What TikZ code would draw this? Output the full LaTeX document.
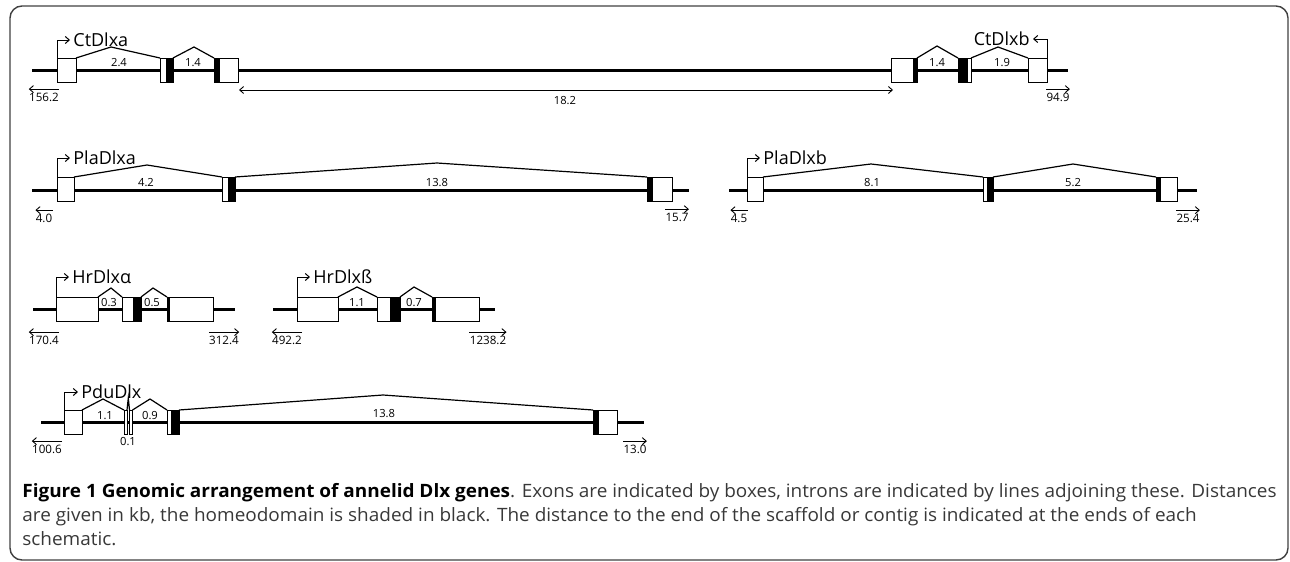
\documentclass[tikz,border=0pt]{standalone}
\usepackage{fontspec}
\setmainfont{Open Sans}
\newfontfamily\capfont[FakeStretch=1.03]{Open Sans}
\usetikzlibrary{fit,arrows.meta}

\begin{document}
\begin{tikzpicture}[x=0.5pt, y=-0.5pt,
    gene/.style={line width=1.5pt},
    exon/.style={draw, fill=white, line width=0.5pt,
        inner sep=0pt, outer sep=0pt},
    hd/.style={exon, fill=black},
    intron/.style={line width=0.6pt, line join=miter},
    tss/.style={line width=0.5pt, -{Straight Barb[length=2pt,width=3.5pt]}},
    ext/.style={line width=0.45pt, -{Straight Barb[length=2pt,width=3.5pt]}},
    span/.style={line width=0.45pt, {Straight Barb[length=2pt,width=3.5pt]}-{Straight Barb[length=2pt,width=3.5pt]}},
    gname/.style={font=\fontsize{9}{10}\selectfont, inner sep=1.5pt, anchor=west},
    len/.style={font=\fontsize{5.6}{6}\selectfont, inner sep=0pt},
    ends/.style={font=\fontsize{5.8}{6}\selectfont, inner xsep=0pt, inner ysep=1.6pt},
    frame/.style={draw=black!75, line width=0.7pt, rounded corners=6pt},
    caption/.style={font=\capfont\fontsize{9.2}{12}\selectfont, text=black!78,
        align=left, inner sep=0pt, anchor=north west},
    ]
    \useasboundingbox (0,0) rectangle (1290,562);
    \draw[frame] (10,6) rectangle (1288,560);

    % CtDlxa / CtDlxb
    \coordinate (ctL) at (32,70);
    \coordinate (ctR) at (1068,70);
    \draw[gene] (ctL) -- (ctR);
    \node[exon, fit={(57,58) (76,82)}] (cta1) {};
    \node[exon, fit={(160,58) (166,82)}] (cta2w) {};
    \node[hd, fit={(166,58) (173,82)}] (cta2h) {};
    \node[hd, fit={(214,58) (219,82)}] (cta3h) {};
    \node[exon, fit={(219,58) (238,82)}] (cta3w) {};
    \node[exon, fit={(891,58) (913,82)}] (ctb1w) {};
    \node[hd, fit={(913,58) (917,82)}] (ctb1h) {};
    \node[hd, fit={(958,58) (967,82)}] (ctb2h) {};
    \node[exon, fit={(967,58) (971,82)}] (ctb2w) {};
    \node[exon, fit={(1028,58) (1047,82)}] (ctb3) {};
    \coordinate (cta1p) at (111,47);
    \coordinate (cta2p) at (194,47);
    \coordinate (ctb1p) at (937,46);
    \coordinate (ctb2p) at (998,47);
    \draw[intron] (cta1.north east) -- (cta1p) -- (cta2w.north west);
    \draw[intron] (cta2h.north east) -- (cta2p) -- (cta3h.north west);
    \draw[intron] (ctb1h.north east) -- (ctb1p) -- (ctb2h.north west);
    \draw[intron] (ctb2w.north east) -- (ctb2p) -- (ctb3.north west);
    \node[len] at (119,63) {2.4};
    \node[len] at (193,63) {1.4};
    \node[len] at (937,63) {1.4};
    \node[len] at (1002,63) {1.9};
    \node[gname] (ctan) at (70,40) {CtDlxa};
    \node[gname, anchor=east] (ctbn) at (1033,39) {CtDlxb};
    \draw[tss] (cta1.north west) |- (ctan.west);
    \draw[tss] (ctb3.north east) |- (ctbn.east);
    \coordinate (cts1) at (239,90);
    \coordinate (cts2) at (893,90);
    \draw[span] (cts1) -- (cts2);
    \node[len] at (565,101) {18.2};
    \node[ends] (ctal) at (44,97) {156.2};
    \node[ends] (ctbr) at (1058,97) {94.9};
    \draw[ext] (ctal.north east) -- (ctal.north west);
    \draw[ext] (ctbr.north west) -- (ctbr.north east);

    % PlaDlxa
    \coordinate (paL) at (32,190);
    \coordinate (paR) at (689,190);
    \draw[gene] (paL) -- (paR);
    \node[exon, fit={(57,177) (74,201)}] (pa1) {};
    \node[exon, fit={(222,177) (228,201)}] (pa2w) {};
    \node[hd, fit={(228,177) (235,201)}] (pa2h) {};
    \node[hd, fit={(647,177) (652,201)}] (pa3h) {};
    \node[exon, fit={(652,177) (672,201)}] (pa3w) {};
    \coordinate (pa1p) at (147,165);
    \coordinate (pa2p) at (437,163);
    \draw[intron] (pa1.north east) -- (pa1p) -- (pa2w.north west);
    \draw[intron] (pa2h.north east) -- (pa2p) -- (pa3h.north west);
    \node[len] at (146,183) {4.2};
    \node[len] at (437,183) {13.8};
    \node[gname] (pan) at (70,158) {PlaDlxa};
    \draw[tss] (pa1.north west) |- (pan.west);
    \node[ends] (pal) at (44,218) {4.0};
    \node[ends] (par) at (677,217) {15.7};
    \draw[ext] (pal.north east) -- (pal.north west);
    \draw[ext] (par.north west) -- (par.north east);

    % PlaDlxb
    \coordinate (pbL) at (729,190);
    \coordinate (pbR) at (1197,190);
    \draw[gene] (pbL) -- (pbR);
    \node[exon, fit={(747,177) (763,201)}] (pb1) {};
    \node[exon, fit={(983,177) (987,201)}] (pb2w) {};
    \node[hd, fit={(987,177) (993,201)}] (pb2h) {};
    \node[hd, fit={(1156,177) (1160,201)}] (pb3h) {};
    \node[exon, fit={(1160,177) (1177,201)}] (pb3w) {};
    \coordinate (pb1p) at (871,164);
    \coordinate (pb2p) at (1073,164);
    \draw[intron] (pb1.north east) -- (pb1p) -- (pb2w.north west);
    \draw[intron] (pb2h.north east) -- (pb2p) -- (pb3h.north west);
    \node[len] at (872,183) {8.1};
    \node[len] at (1073,183) {5.2};
    \node[gname] (pbn) at (760,158) {PlaDlxb};
    \draw[tss] (pb1.north west) |- (pbn.west);
    \node[ends] (pbl) at (739,218) {4.5};
    \node[ends] (pbr) at (1188,218) {25.4};
    \draw[ext] (pbl.north east) -- (pbl.north west);
    \draw[ext] (pbr.north west) -- (pbr.north east);

    % HrDlx
    \coordinate (haL) at (33,309);
    \coordinate (haR) at (235,309);
    \draw[gene] (haL) -- (haR);
    \node[exon, fit={(56,297) (98,321)}] (ha1) {};
    \node[exon, fit={(122,297) (133,321)}] (ha2w) {};
    \node[hd, fit={(133,297) (141,321)}] (ha2h) {};
    \node[hd, fit={(167,297) (169,321)}] (ha3h) {};
    \node[exon, fit={(169,297) (213,321)}] (ha3w) {};
    \coordinate (ha1p) at (111,288);
    \coordinate (ha2p) at (153,288);
    \draw[intron] (ha1.north east) -- (ha1p) -- (ha2w.north west);
    \draw[intron] (ha2h.north east) -- (ha2p) -- (ha3h.north west);
    \node[len] at (109,303) {0.3};
    \node[len] at (152,303) {0.5};
    \node[gname] (han) at (69,277) {HrDlxα};
    \draw[tss] (ha1.north west) |- (han.west);
    \node[ends] (hal) at (44,340) {170.4};
    \node[ends] (har) at (224,340) {312.4};
    \draw[ext] (hal.north east) -- (hal.north west);
    \draw[ext] (har.north west) -- (har.north east);

    \coordinate (hbL) at (273,309);
    \coordinate (hbR) at (495,309);
    \draw[gene] (hbL) -- (hbR);
    \node[exon, fit={(297,297) (338,321)}] (hb1) {};
    \node[exon, fit={(377,297) (390,321)}] (hb2w) {};
    \node[hd, fit={(390,297) (400,321)}] (hb2h) {};
    \node[hd, fit={(432,297) (435,321)}] (hb3h) {};
    \node[exon, fit={(435,297) (479,321)}] (hb3w) {};
    \coordinate (hb1p) at (357,287);
    \coordinate (hb2p) at (414,287);
    \draw[intron] (hb1.north east) -- (hb1p) -- (hb2w.north west);
    \draw[intron] (hb2h.north east) -- (hb2p) -- (hb3h.north west);
    \node[len] at (357,303) {1.1};
    \node[len] at (414,303) {0.7};
    \node[gname] (hbn) at (310,277) {HrDlxß};
    \draw[tss] (hb1.north west) |- (hbn.west);
    \node[ends] (hbl) at (287,340) {492.2};
    \node[ends] (hbr) at (488,340) {1238.2};
    \draw[ext] (hbl.north east) -- (hbl.north west);
    \draw[ext] (hbr.north west) -- (hbr.north east);

    % PduDlx
    \coordinate (pdL) at (41,422);
    \coordinate (pdR) at (644,422);
    \draw[gene] (pdL) -- (pdR);
    \node[exon, fit={(64,410) (82,434)}] (pd1) {};
    \node[exon, fit={(124,410) (127,434)}] (pd2) {};
    \node[exon, fit={(129.5,410) (132.5,434)}] (pd3) {};
    \node[exon, fit={(167,410) (171,434)}] (pd4w) {};
    \node[hd, fit={(171,410) (179,434)}] (pd4h) {};
    \node[hd, fit={(593,410) (598,434)}] (pd5h) {};
    \node[exon, fit={(598,410) (617,434)}] (pd5w) {};
    \coordinate (pd1p) at (103,399);
    \coordinate (pd2p) at (128.3,398);
    \coordinate (pd3p) at (150,399);
    \coordinate (pd4p) at (383,395);
    \draw[intron] (pd1.north east) -- (pd1p) -- (pd2.north west);
    \draw[intron] (pd2.north east) -- (pd2p) -- (pd3.north west);
    \draw[intron] (pd3.north east) -- (pd3p) -- (pd4w.north west);
    \draw[intron] (pd4h.north east) -- (pd4p) -- (pd5h.north west);
    \node[len] at (105,416) {1.1};
    \node[len] at (150,416) {0.9};
    \node[len] at (384,414) {13.8};
    \node[len] at (128,442) {0.1};
    \node[gname] (pdn) at (78,392) {PduDlx};
    \draw[tss] (pd1.north west) |- (pdn.west);
    \node[ends] (pdl) at (47,449) {100.6};
    \node[ends] (pdr) at (635,449) {13.0};
    \draw[ext] (pdl.north east) -- (pdl.north west);
    \draw[ext] (pdr.north west) -- (pdr.north east);

    \node[caption] (cap) at (22,483) {{\bfseries\color{black}Figure 1 Genomic arrangement of annelid Dlx genes}. Exons are indicated by boxes, introns are indicated by lines adjoining these. Distances\\
    are given in kb, the homeodomain is shaded in black. The distance to the end of the scaffold or contig is indicated at the ends of each\\
    schematic.};
\end{tikzpicture}
\end{document}
